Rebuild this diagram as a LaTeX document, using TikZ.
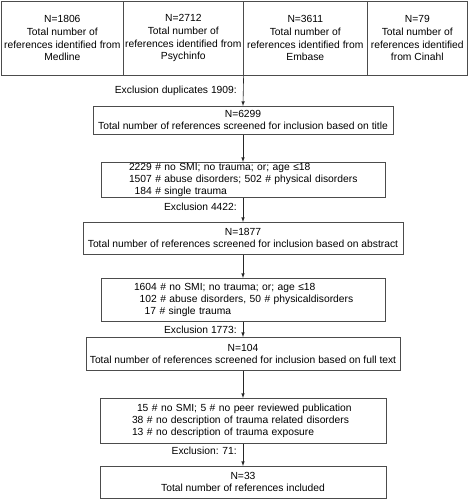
\documentclass[tikz,border=0pt]{standalone}
\usepackage{fontspec}
\setmainfont{Liberation Sans}

\begin{document}
\begin{tikzpicture}[x=1pt,y=-1pt,
    kasten/.style={draw=black!70, line width=0.6pt, inner sep=0pt, anchor=north, align=center, font=\fontsize{10.3}{12}\selectfont},
    quelle/.style={kasten, anchor=north west, minimum height=74pt, font=\fontsize{10.3}{12.6}\selectfont},
    ausschluss/.style={kasten, align=left, text width=#1, minimum width=#1},
    notiz/.style={anchor=east, inner sep=0pt, font=\fontsize{10.3}{12}\selectfont},
    pfeil/.style={-latex, black!85, line width=0.6pt}]
    \useasboundingbox (0,0) rectangle (468,500);

    \def\datenbank#1#2#3#4{
    \node[quelle, minimum width=#3] (#1) at (#2,1) {#4};
    }
    \def\ein#1{\hspace*{#1pt}}

    \datenbank{medline}{1}{122pt}{N=1806\\Total number of\\references identified from\\Medline}
    \datenbank{psych}{123}{120pt}{N=2712\\Total number of\\references identified from\\Psychinfo}
    \datenbank{embase}{243}{124pt}{N=3611\\Total number of\\references identified from\\Embase}
    \datenbank{cinahl}{367}{100pt}{N=79\\Total number of\\references identified\\from Cinahl}

    \node[kasten, minimum width=300pt, minimum height=28pt] (titel) at (243,106) {N=6299\\Total number of references screened for inclusion based on title};
    \node[ausschluss=284pt, minimum height=35pt] (aus1) at (243,162) {\ein{28}2229 \# no SMI; no trauma; or; age ≤18\\\ein{28}1507 \# abuse disorders; 502 \# physical disorders\\\ein{28}\phantom{1}184 \# single trauma};
    \node[kasten, minimum width=320pt, minimum height=32pt] (abstract) at (243,222) {N=1877\\Total number of references screened for inclusion based on abstract};
    \node[ausschluss=284pt, minimum height=43pt] (aus2) at (243,278) {\ein{33}1604 \# no SMI; no trauma; or; age ≤18\\\ein{33}\phantom{1}102 \# abuse disorders, 50 \# physicaldisorders\\\ein{33}\phantom{11}17 \# single trauma};
    \node[kasten, minimum width=314pt, minimum height=33pt] (volltext) at (243,337) {N=104\\Total number of references screened for inclusion based on full text};
    \node[ausschluss=286pt, minimum height=45pt] (aus3) at (243,398) {\ein{37}15 \# no SMI; 5 \# no peer reviewed publication\\\ein{32}38 \# no description of trauma related disorders\\\ein{32}13 \# no description of trauma exposure};
    \node[kasten, minimum width=286pt, minimum height=32pt] (ende) at (243,466) {N=33\\Total number of references included};

    \node[notiz] (dupl) at (237,91) {Exclusion duplicates 1909:};
    \node[notiz] (excl1) at (237,207) {Exclusion 4422:};
    \node[notiz] (excl2) at (237,330) {Exclusion 1773:};
    \node[notiz] (excl3) at (237,451) {Exclusion: 71:};

    \draw[pfeil] (psych.south east) -- (titel.north);
    \draw[pfeil] (titel) -- (aus1);
    \draw[pfeil] (aus1) -- (abstract);
    \draw[pfeil] (abstract) -- (aus2);
    \draw[pfeil] (aus2) -- (volltext);
    \draw[pfeil] (volltext) -- (aus3);
    \draw[pfeil] (aus3) -- (ende);
\end{tikzpicture}
\end{document}
